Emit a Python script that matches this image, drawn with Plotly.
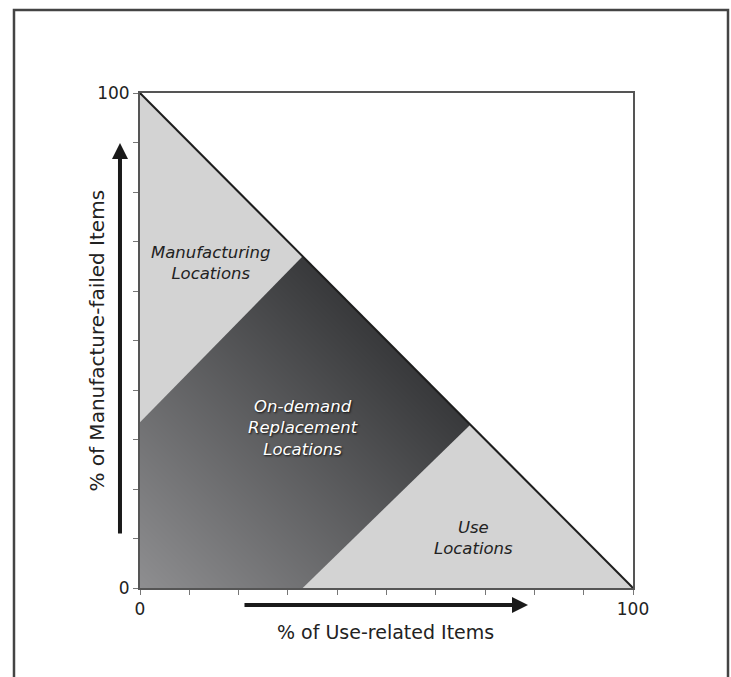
import plotly.graph_objects as go

# ---- data ----
tick_vals = [0, 10, 20, 30, 40, 50, 60, 70, 80, 90, 100]
tick_text = ["0", "", "", "", "", "", "", "", "", "", "100"]

diag_x = [0, 100]
diag_y = [100, 0]

upper_x = [0, 100, 100]
upper_y = [100, 100, 0]

manuf_x = [0, 0, 33]
manuf_y = [33.5, 100, 67]

use_x = [33, 100, 67]
use_y = [0, 0, 33]

grad_x = [0, 100]
grad_y = [0, 100]
grad_z = [[0, 100], [100, 200]]

labels = ["Manufacturing<br>Locations", "On-demand<br>Replacement<br>Locations", "Use<br>Locations"]
label_x = [14.4, 33, 67.7]
label_y = [65.7, 32.3, 10.1]

FONT = "DejaVu Sans"
LIGHT = "#d3d3d3"

fig = go.Figure()

fig.add_trace(go.Heatmap(
    x=grad_x, y=grad_y, z=grad_z, zmin=0, zmax=100, zsmooth="best",
    colorscale=[[0, "#8e8e90"], [1, "#38393b"]], showscale=False, hoverinfo="skip"))

fig.add_trace(go.Scatter(x=upper_x, y=upper_y, fill="toself", fillcolor="white",
                         mode="none", hoverinfo="skip", showlegend=False))
fig.add_trace(go.Scatter(x=manuf_x, y=manuf_y, fill="toself", fillcolor=LIGHT,
                         mode="none", hoverinfo="skip", showlegend=False))
fig.add_trace(go.Scatter(x=use_x, y=use_y, fill="toself", fillcolor=LIGHT,
                         mode="none", hoverinfo="skip", showlegend=False))
fig.add_trace(go.Scatter(x=diag_x, y=diag_y, mode="lines",
                         line=dict(color="#1e1e1e", width=2),
                         hoverinfo="skip", showlegend=False))

axis_common = dict(range=[0, 100], tickvals=tick_vals, ticktext=tick_text,
                   ticks="outside", ticklen=5, tickcolor="#777", tickwidth=1,
                   showgrid=False, zeroline=False, showline=True, mirror=True,
                   linecolor="#555", linewidth=2,
                   tickfont=dict(family=FONT, size=17, color="#222"))

fig.update_xaxes(**axis_common)
fig.update_yaxes(**axis_common)

annotations = []
for i, (t, x, y) in enumerate(zip(labels, label_x, label_y)):
    white = i == 1
    annotations.append(dict(
        x=x, y=y, xref="x", yref="y", text=t, showarrow=False,
        xanchor="center", yanchor="middle",
        font=dict(family=FONT, size=16.5, color="white" if white else "#222",
                  style="italic",
                  shadow="1px 1px 2px #111" if white else "none")))

# axis titles
annotations.append(dict(x=0.497, y=-0.089, xref="paper", yref="paper",
                        xanchor="center", yanchor="middle",
                        text="% of Use-related Items", showarrow=False,
                        font=dict(family=FONT, size=19, color="#222")))
annotations.append(dict(x=-0.089, y=0.50, xref="paper", yref="paper",
                        xanchor="center", yanchor="middle",
                        text="% of Manufacture-failed Items", showarrow=False,
                        textangle=-90,
                        font=dict(family=FONT, size=20, color="#222")))
# arrows
annotations.append(dict(x=0.787, y=-0.0343, xref="paper", yref="paper",
                        ax=-285, ay=0, axref="pixel", ayref="pixel", text="",
                        showarrow=True, arrowhead=2, arrowsize=0.8,
                        arrowwidth=4, arrowcolor="#1a1a1a"))
annotations.append(dict(x=-0.0406, y=0.899, xref="paper", yref="paper",
                        ax=0, ay=392, axref="pixel", ayref="pixel", text="",
                        showarrow=True, arrowhead=2, arrowsize=0.8,
                        arrowwidth=4, arrowcolor="#1a1a1a"))

fig.update_layout(
    width=731, height=677,
    margin=dict(l=140, r=98, t=93, b=89),
    paper_bgcolor="white", plot_bgcolor="white",
    annotations=annotations,
    shapes=[dict(type="path", xref="paper", yref="paper",
                 path="M -0.2556 -0.2 L -0.2556 1.1677 L 1.1927 1.1677 L 1.1927 -0.2",
                 line=dict(color="#444", width=2.5))],
    showlegend=False,
)

fig.write_html(
    "out.html",
    config=dict(displayModeBar=False),
    post_script="document.body.style.margin='0';document.body.style.overflow='hidden';",
)
